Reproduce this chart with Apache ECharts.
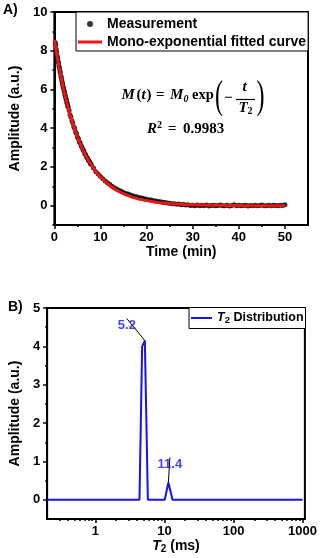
<!DOCTYPE html>
<html>
<head>
<meta charset="utf-8">
<script src="https://cdn.jsdelivr.net/npm/echarts@6/dist/echarts.min.js"></script>
<style>
  html, body { margin: 0; padding: 0; background: #fff; }
  #chart { width: 320px; height: 558px; }
</style>
</head>
<body>
<div id="chart"></div>
<script>
// panel A: relaxation decay
const measTime = [
  0.2, 0.3, 0.4, 0.5, 0.6, 0.7, 0.8, 0.9, 1.0, 1.1, 1.2, 1.3, 1.4, 1.5, 1.6, 1.7, 1.8, 1.9, 2.0,
  2.1, 2.2, 2.3, 2.4, 2.5, 2.6, 2.7, 2.8, 2.9, 3.0,
  3.2, 3.4, 3.6, 3.8, 4.0, 4.2, 4.4, 4.6, 4.8, 5.0, 5.2, 5.4, 5.6, 5.8, 6.0, 6.2, 6.4, 6.6, 6.8,
  7.0, 7.2, 7.4, 7.6, 7.8, 8.0,
  8.5, 9, 9.5, 10, 10.5, 11, 11.5, 12, 12.5, 13, 13.5, 14, 14.5, 15, 15.5, 16, 16.5, 17, 17.5,
  18, 18.5, 19, 19.5, 20, 20.5, 21, 21.5, 22, 22.5, 23, 23.5, 24, 24.5, 25, 25.5, 26, 26.5, 27,
  27.5, 28, 28.5, 29, 29.5, 30, 30.5, 31, 31.5, 32, 32.5, 33, 33.5, 34, 34.5, 35, 35.5, 36, 36.5,
  37, 37.5, 38, 38.5, 39, 39.5, 40, 40.5, 41, 41.5, 42, 42.5, 43, 43.5, 44, 44.5, 45, 45.5, 46,
  46.5, 47, 47.5, 48, 48.5, 49, 49.5, 50
];
const measAmp = [
  8.42, 8.30, 8.08, 7.93, 7.74, 7.62, 7.46, 7.36, 7.20, 7.11, 6.95, 6.86, 6.70, 6.62, 6.49, 6.38,
  6.27, 6.13, 6.06, 5.93, 5.85, 5.71, 5.65, 5.53, 5.46, 5.33, 5.27, 5.14, 5.09,
  4.91, 4.70, 4.58, 4.38, 4.27, 4.08, 3.99, 3.80, 3.72, 3.55, 3.47, 3.30, 3.24, 3.09, 3.02, 2.88,
  2.82, 2.68, 2.63, 2.50, 2.45, 2.33, 2.29, 2.17, 2.13,
  1.95, 1.75, 1.64, 1.50, 1.39, 1.27, 1.18, 1.10, 1.00, 0.93, 0.86, 0.80, 0.74, 0.68, 0.63, 0.60,
  0.55, 0.51, 0.47, 0.45, 0.41, 0.39, 0.35, 0.33, 0.30, 0.29, 0.25, 0.24, 0.21, 0.20, 0.17, 0.16,
  0.13, 0.12, 0.10, 0.10, 0.07, 0.08, 0.05, 0.06, 0.03, 0.04, 0.01, 0.02,
  0.00, 0.03, -0.01, 0.02, 0.00, 0.03, -0.02, 0.01, 0.02, -0.01, 0.01, 0.03, -0.01, 0.00, 0.02,
  -0.02, 0.01, 0.04, 0.00, 0.02, -0.01, 0.01, 0.02, -0.02, 0.01, 0.00, 0.02, -0.01, 0.01, 0.03,
  -0.01, 0.00, 0.02, -0.01, 0.02, 0.01, -0.01, 0.02, 0.01, 0.05
];
const fitTime = [
  0, 0.5, 1, 1.5, 2, 2.5, 3, 3.5, 4, 4.5, 5, 5.5, 6, 6.5, 7, 7.5, 8, 8.5, 9, 9.5, 10,
  11, 12, 13, 14, 15, 16, 17, 18, 19, 20, 21, 22, 23, 24, 25, 26, 27, 28, 29, 30,
  32, 34, 36, 38, 40, 42, 44, 46, 48, 50
];
const fitAmp = [
  8.55, 7.83, 7.17, 6.57, 6.02, 5.51, 5.05, 4.63, 4.24, 3.88, 3.56, 3.26, 2.98, 2.73, 2.50, 2.29,
  2.10, 1.92, 1.76, 1.61, 1.48,
  1.24, 1.04, 0.87, 0.73, 0.62, 0.52, 0.43, 0.36, 0.31, 0.26, 0.22, 0.18, 0.15, 0.13, 0.11, 0.09,
  0.08, 0.06, 0.05, 0.05,
  0.03, 0.02, 0.02, 0.01, 0.01, 0.00, 0.00, 0.00, 0.00, 0.00
];
const timeTicks = [0, 10, 20, 30, 40, 50];
const ampTicksA = [0, 2, 4, 6, 8, 10];
const ampMinorA = [-1, 1, 3, 5, 7, 9];

// panel B: T2 distribution
const t2Time = [0.2, 4.35, 4.75, 5.2, 5.75, 10.1, 11.4, 13.1, 1000];
const t2Amp = [0, 0, 4.0, 4.15, 0, 0, 0.45, 0, 0];
const peakT2 = [5.2, 11.4];
const peakAmp = [4.15, 0.45];
const t2Ticks = [1, 10, 100, 1000];
const t2Minor = [
  0.3, 0.4, 0.5, 0.6, 0.7, 0.8, 0.9, 2, 3, 4, 5, 6, 7, 8, 9,
  20, 30, 40, 50, 60, 70, 80, 90, 200, 300, 400, 500, 600, 700, 800, 900
];
const ampTicksB = [0, 1, 2, 3, 4, 5];
const ampMinorB = [0.5, 1.5, 2.5, 3.5, 4.5];

const sans = '"Liberation Sans", Arial, sans-serif';
const serif = '"Liberation Serif", "Times New Roman", serif';
const blue = '#1414f5';
const red = '#ee1515';

const tickFont = { fontFamily: sans, fontWeight: 'bold', fontSize: 13, color: '#000' };
const nameFont = {
  fontFamily: sans, fontWeight: 'bold', fontSize: 14, color: '#000',
  rich: {
    i: { fontFamily: sans, fontWeight: 'bold', fontStyle: 'italic', fontSize: 14, lineHeight: 16 },
    s: { fontFamily: sans, fontWeight: 'bold', fontSize: 10, lineHeight: 10, verticalAlign: 'bottom' }
  }
};
const axisLine = { onZero: false, lineStyle: { color: '#000', width: 2 } };
const tickLine = { color: '#000', width: 1.5 };

const mainAxis = (extra) => Object.assign({
  axisLine: axisLine,
  splitLine: { show: false },
  nameLocation: 'middle',
  nameTextStyle: nameFont
}, extra);

const minorAxis = (extra) => Object.assign({
  axisLine: { show: false, onZero: false },
  axisLabel: { show: false },
  splitLine: { show: false }
}, extra);

// equation pieces
const eqText = (x, y, text, size, style, extra) => Object.assign({
  type: 'text', x: x, y: y,
  style: {
    text: text, fill: '#000', verticalAlign: 'middle',
    font: (style || 'bold') + ' ' + size + 'px ' + serif
  }
}, extra);

const chart = echarts.init(document.getElementById('chart'), null, { renderer: 'canvas' });

chart.setOption({
  backgroundColor: '#fff',
  animation: false,
  grid: [
    { left: 44, top: 12, width: 264, height: 213, show: true, borderColor: '#000', borderWidth: 2 },
    { left: 44, top: 308, width: 261, height: 211, show: true, borderColor: '#000', borderWidth: 2 }
  ],
  xAxis: [
    mainAxis({
      type: 'value', gridIndex: 0, position: 'bottom', min: 0, max: 55, interval: 10,
      axisTick: { customValues: timeTicks, length: 4, lineStyle: tickLine },
      minorTick: { show: true, splitNumber: 2, length: 2, lineStyle: tickLine },
      minorSplitLine: { show: false },
      axisLabel: Object.assign({ customValues: timeTicks, margin: 6 }, tickFont),
      name: 'Time (min)', nameGap: 19
    }),
    mainAxis({
      type: 'log', gridIndex: 1, position: 'bottom', logBase: 10, min: 0.2, max: 1080,
      axisTick: { customValues: t2Ticks, length: 4, lineStyle: tickLine },
      axisLabel: Object.assign({
        customValues: t2Ticks, margin: 6,
        formatter: (v) => String(Math.round(v))
      }, tickFont),
      name: '{i|T}{s|2} (ms)', nameGap: 16
    }),
    minorAxis({
      type: 'log', gridIndex: 1, position: 'bottom', logBase: 10, min: 0.2, max: 1080,
      axisTick: { customValues: t2Minor, length: 2, lineStyle: tickLine }
    })
  ],
  yAxis: [
    mainAxis({
      type: 'value', gridIndex: 0, position: 'left', min: -1, max: 10, interval: 1,
      axisTick: { customValues: ampTicksA, length: 4, lineStyle: tickLine },
      axisLabel: Object.assign({ customValues: ampTicksA, margin: 7 }, tickFont),
      name: 'Amplitude (a.u.)', nameGap: 25
    }),
    minorAxis({
      type: 'value', gridIndex: 0, position: 'left', min: -1, max: 10, interval: 1,
      axisTick: { customValues: ampMinorA, length: 2, lineStyle: tickLine }
    }),
    mainAxis({
      type: 'value', gridIndex: 1, position: 'left', min: -0.5, max: 5, interval: 0.5,
      axisTick: { customValues: ampTicksB, length: 4, lineStyle: tickLine },
      axisLabel: Object.assign({ customValues: ampTicksB, margin: 7 }, tickFont),
      name: 'Amplitude (a.u.)', nameGap: 25
    }),
    minorAxis({
      type: 'value', gridIndex: 1, position: 'left', min: -0.5, max: 5, interval: 0.5,
      axisTick: { customValues: ampMinorB, length: 2, lineStyle: tickLine }
    })
  ],
  legend: [
    {
      data: [
        { name: 'Measurement', icon: 'circle' },
        { name: 'Mono-exponential fitted curve', icon: 'path://M0,0H24V3H0Z' }
      ],
      orient: 'vertical', left: 76, top: 12,
      padding: [4, 2, 1, 2], itemGap: 2, itemWidth: 24, itemHeight: 6,
      backgroundColor: '#fff', borderColor: '#000', borderWidth: 1, borderRadius: 0,
      textStyle: { fontFamily: sans, fontWeight: 'bold', fontSize: 14, color: '#000', lineHeight: 16 }
    },
    {
      data: [{ name: 'T2 Distribution', icon: 'path://M0,0H21V2H0Z' }],
      orient: 'vertical', left: 189, top: 307.5,
      padding: [3, 2, 3, 2], itemWidth: 21, itemHeight: 10,
      backgroundColor: '#fff', borderColor: '#000', borderWidth: 1, borderRadius: 0,
      formatter: () => '{i|T}{s|2} Distribution',
      textStyle: {
        fontFamily: sans, fontWeight: 'bold', fontSize: 12.5, color: '#000', lineHeight: 15,
        rich: {
          i: { fontFamily: sans, fontWeight: 'bold', fontStyle: 'italic', fontSize: 12.5, lineHeight: 15 },
          s: { fontFamily: sans, fontWeight: 'bold', fontSize: 9.5, lineHeight: 9, verticalAlign: 'bottom' }
        }
      }
    }
  ],
  series: [
    {
      name: 'Measurement', type: 'scatter', xAxisIndex: 0, yAxisIndex: 0,
      data: measTime.map((t, i) => [t, measAmp[i]]),
      symbol: 'circle', symbolSize: 5, itemStyle: { color: '#000' }, z: 2
    },
    {
      name: 'Mono-exponential fitted curve', type: 'line', xAxisIndex: 0, yAxisIndex: 0,
      data: fitTime.map((t, i) => [t, fitAmp[i]]),
      symbol: 'none', lineStyle: { color: red, width: 3 }, itemStyle: { color: red }, z: 3
    },
    {
      name: 'T2 Distribution', type: 'line', xAxisIndex: 1, yAxisIndex: 2,
      data: t2Time.map((t, i) => [t, t2Amp[i]]),
      symbol: 'none', lineStyle: { color: blue, width: 2 }, itemStyle: { color: blue }, z: 3
    },
    {
      name: 'peaks', type: 'scatter', xAxisIndex: 1, yAxisIndex: 2,
      data: peakT2.map((t, i) => [t, peakAmp[i]]),
      symbolSize: 0, silent: true, z: 5,
      label: {
        show: true, position: 'top', distance: 0,
        formatter: (p) => String(p.value[0]),
        fontFamily: sans, fontWeight: 'bold', fontSize: 13, color: blue
      },
      labelLayout: (p) => (p.dataIndex === 0 ? { dx: -18, dy: -9 } : { dx: 1.5, dy: -12 }),
      labelLine: { show: true, lineStyle: { color: '#000', width: 1 } }
    }
  ],
  graphic: [
    { type: 'text', x: 3, y: 10.5, style: { text: 'A)', font: 'bold 14px ' + sans, fill: '#000', verticalAlign: 'middle' } },
    { type: 'text', x: 8, y: 307.5, style: { text: 'B)', font: 'bold 14px ' + sans, fill: '#000', verticalAlign: 'middle' } },
    // M(t) = M0 exp( -t / T2 )
    eqText(121.5, 95, 'M', 15, 'italic bold'),
    eqText(136.5, 95, '(', 15),
    eqText(141.5, 95, 't', 15, 'italic bold'),
    eqText(146.5, 95, ')', 15),
    eqText(156, 95, '=', 15),
    eqText(170, 95, 'M', 15, 'italic bold'),
    eqText(183.5, 99, '0', 10, 'italic bold'),
    eqText(192, 95, 'exp', 14.5),
    eqText(215, 97, '(', 40, 'normal', { scaleX: 0.6 }),
    eqText(224, 98.5, '\u2212', 15),
    eqText(244.5, 87, 't', 15, 'italic bold', { style: { text: 't', fill: '#000', verticalAlign: 'middle', align: 'center', font: 'italic bold 15px ' + serif } }),
    { type: 'line', shape: { x1: 236, y1: 99.5, x2: 255, y2: 99.5 }, style: { stroke: '#000', lineWidth: 1.2 } },
    eqText(238.5, 108, 'T', 15, 'italic bold'),
    eqText(247.5, 111, '2', 10),
    eqText(256.5, 97, ')', 40, 'normal', { scaleX: 0.6 }),
    // R^2 = 0.9983
    eqText(147, 129, 'R', 15, 'italic bold'),
    eqText(157, 125, '2', 10),
    eqText(168, 129, '=', 15),
    eqText(183, 129, '0.9983', 15)
  ]
});
</script>
</body>
</html>
